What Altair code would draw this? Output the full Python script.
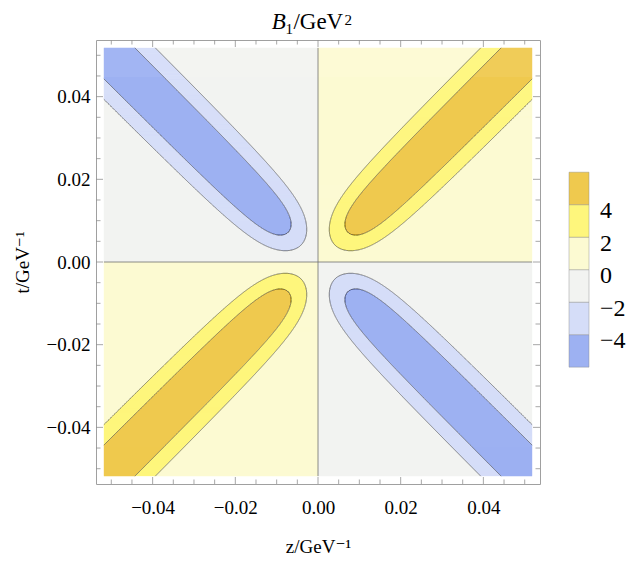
import numpy as np
import pandas as pd
import altair as alt

# ---------------- values ----------------
BAND_ORDER = ["lt-4", "-4..-2", "-2..0", "0..2", "2..4", "gt4"]
BAND_COLORS = ["#9db1f2", "#d5ddf8", "#f2f3f1", "#fcfad2", "#fef67c", "#efc94e"]
LEGEND_EDGES = [-6, -4, -2, 0, 2, 4, 6]
LEGEND_LABEL_VALUES = [4, 2, 0, -2, -4]
LEGEND_LABELS = ["4", "2", "0", "\u22122", "\u22124"]

# shape of the |B1| = 2 and |B1| = 4 contours (bands along the light cone z = +-t)
HALF_WIDTH_2 = 0.00892   # asymptotic half width across the diagonal
HALF_WIDTH_4 = 0.00538
TIP_2 = 0.0058           # distance of the rounded tip from the origin along the diagonal
TIP_4 = 0.0102

PLOT_RANGE = 0.0518
FRAME_RANGE = 0.0537
MAJOR_TICKS = [-0.04, -0.02, 0.0, 0.02, 0.04]
MINOR_TICKS = [-0.05, -0.045, -0.035, -0.03, -0.025, -0.015, -0.01, -0.005,
               0.005, 0.01, 0.015, 0.025, 0.03, 0.035, 0.045, 0.05]

FONT = "Liberation Serif, DejaVu Serif, serif"
S2 = np.sqrt(2.0)
R = PLOT_RANGE


def band_index(z, t):
    pos = z * t > 0
    d1 = (z + t) / S2
    d2 = (t - z) / S2
    u = np.where(pos, np.abs(d1), np.abs(d2))
    v = np.where(pos, d2, d1)

    def inside(w, u0):
        return (np.abs(v) < w) & (u ** 2 * (1 - (v / w) ** 2) >= v ** 2 + u0 ** 2)

    mag = np.where(inside(HALF_WIDTH_4, TIP_4), 2, np.where(inside(HALF_WIDTH_2, TIP_2), 1, 0))
    return np.where(pos, 3 + mag, 2 - mag)


# ---- filled contour regions as horizontal runs ----
NROW, NCOL = 428, 2400
tz = np.linspace(-R, R, NROW + 1)
zz = np.linspace(-R, R, NCOL + 1)
zc = (zz[:-1] + zz[1:]) / 2
step = tz[1] - tz[0]
rows = []
for i in range(NROW):
    tc = (tz[i] + tz[i + 1]) / 2
    idx = band_index(zc, np.full_like(zc, tc))
    change = np.flatnonzero(np.diff(idx)) + 1
    starts = np.concatenate([[0], change])
    ends = np.concatenate([change, [NCOL]])
    top = min(tz[i + 1] + 0.5 * step, R)
    for s, e in zip(starts, ends):
        rows.append((zz[s], zz[e], tz[i], top, BAND_ORDER[int(idx[s])]))
fill_df = pd.DataFrame(rows, columns=["z0", "z1", "t0", "t1", "band"])


# ---- contour lines ----
def contour_points(w, u0, quadrant, n=4000):
    th = np.linspace(-np.pi / 2, np.pi / 2, n + 2)[1:-1]
    v = w * np.sin(th)
    u = np.sqrt(v ** 2 + u0 ** 2) / np.cos(th)
    if quadrant == 1:
        z, t = (u - v) / S2, (u + v) / S2
    elif quadrant == 3:
        z, t = (-u - v) / S2, (v - u) / S2
    elif quadrant == 2:
        z, t = (v - u) / S2, (v + u) / S2
    else:
        z, t = (v + u) / S2, (v - u) / S2
    m = np.maximum(np.abs(z), np.abs(t))
    ids = np.flatnonzero(m <= R)
    a, b = ids[0], ids[-1]
    zs = list(z[a:b + 1])
    ts = list(t[a:b + 1])
    if a > 0:
        f = (R - m[a]) / (m[a - 1] - m[a])
        zs.insert(0, z[a] + f * (z[a - 1] - z[a]))
        ts.insert(0, t[a] + f * (t[a - 1] - t[a]))
    if b < len(z) - 1:
        f = (R - m[b]) / (m[b + 1] - m[b])
        zs.append(z[b] + f * (z[b + 1] - z[b]))
        ts.append(t[b] + f * (t[b + 1] - t[b]))
    return zs, ts


line_rows = []
cid = 0
for (w, u0) in [(HALF_WIDTH_2, TIP_2), (HALF_WIDTH_4, TIP_4)]:
    for q in [1, 2, 3, 4]:
        zs, ts = contour_points(w, u0, q)
        for k, (a, b) in enumerate(zip(zs, ts)):
            line_rows.append((a, b, cid, k))
        cid += 1
line_df = pd.DataFrame(line_rows, columns=["z", "t", "cid", "k"])

zero_df = pd.DataFrame({"z0": [0.0, -R], "z1": [0.0, R], "t0": [-R, 0.0], "t1": [R, 0.0]})

# ---------------- encodings ----------------
xs = alt.Scale(domain=[-FRAME_RANGE, FRAME_RANGE], nice=False, zero=False)
ys = alt.Scale(domain=[-FRAME_RANGE, FRAME_RANGE], nice=False, zero=False)
cscale = alt.Scale(domain=BAND_ORDER, range=BAND_COLORS)

xaxis = alt.Axis(values=MAJOR_TICKS, format=".2f", ticks=False, tickSize=0, domain=False,
                 grid=False, labelFont=FONT, labelFontSize=19, labelColor="black",
                 labelPadding=29, labelBaseline="alphabetic", labelFlush=False,
                 title="z/GeV\u207b\u00b9", titleFont=FONT, titleFontSize=19,
                 titleFontWeight="normal", titleColor="black", titleX=222, titleY=62,
                 titleBaseline="middle")
yaxis = alt.Axis(values=MAJOR_TICKS, format=".2f", ticks=False, tickSize=0, domain=False,
                 grid=False, labelFont=FONT, labelFontSize=19, labelColor="black",
                 labelPadding=6, labelFlush=False,
                 title="t/GeV\u207b\u00b9", titleFont=FONT, titleFontSize=19,
                 titleFontWeight="normal", titleColor="black", titleX=-74, titleY=222,
                 titleAngle=270, titleBaseline="middle")


def X(f):
    return alt.X(f, type="quantitative", scale=xs, axis=xaxis)


def Y(f):
    return alt.Y(f, type="quantitative", scale=ys, axis=yaxis)


fill = alt.Chart(fill_df).mark_rect(strokeWidth=0).encode(
    x=X("z0"), x2="z1", y=Y("t0"), y2="t1",
    color=alt.Color("band:N", scale=cscale, legend=None))

lines = alt.Chart(line_df).mark_line(color="#4a4a4a", strokeWidth=0.75, opacity=0.85).encode(
    x=X("z"), y=Y("t"), detail="cid:N", order="k:Q")

zero = alt.Chart(zero_df).mark_rule(color="#707070", strokeWidth=0.8).encode(
    x=X("z0"), x2="z1", y=Y("t0"), y2="t1")

W = 444
tick_layers = []
for vals, L in [(MAJOR_TICKS, 7), (MINOR_TICKS, 4.5)]:
    tdf = pd.DataFrame({"v": vals})
    base = alt.Chart(tdf).mark_rule(color="#909090", strokeWidth=0.8)
    tick_layers += [
        base.encode(x=X("v"), y=alt.value(W), y2=alt.value(W - L)),
        base.encode(x=X("v"), y=alt.value(0), y2=alt.value(L)),
        base.encode(y=Y("v"), x=alt.value(0), x2=alt.value(L)),
        base.encode(y=Y("v"), x=alt.value(W), x2=alt.value(W - L)),
    ]

one = pd.DataFrame({"a": [0]})


def txt(s, x, y, size, italic=False, align="left"):
    kw = dict(text=s, font=FONT, fontSize=size, align=align, baseline="alphabetic", color="black")
    if italic:
        kw["fontStyle"] = "italic"
    return alt.Chart(one).mark_text(**kw).encode(x=alt.value(x), y=alt.value(y))


title_layers = [
    txt("B", 175.7, -10.7, 23, italic=True),
    txt("1", 189.5, -6.5, 15),
    txt("/GeV", 222.3, -10.7, 23, align="center"),
    txt("2", 248.5, -15, 15),
]

main = alt.layer(fill, lines, zero, *tick_layers, *title_layers)

# ---------------- bar legend ----------------
leg_df = pd.DataFrame({"lo": LEGEND_EDGES[:-1], "hi": LEGEND_EDGES[1:], "band": BAND_ORDER})
lab_df = pd.DataFrame({"lv": LEGEND_LABEL_VALUES, "lab": LEGEND_LABELS})
ls = alt.Scale(domain=[-13.19, 14.135], nice=False, zero=False)

leg_rect = alt.Chart(leg_df).mark_rect(stroke="#8a8a8a", strokeWidth=0.6, strokeOpacity=0.7).encode(
    x=alt.value(473), x2=alt.value(493),
    y=alt.Y("lo:Q", scale=ls, axis=None), y2="hi:Q",
    color=alt.Color("band:N", scale=cscale, legend=None))
leg_text = alt.Chart(lab_df).mark_text(font=FONT, fontSize=24, align="left",
                                       baseline="alphabetic", dy=13.5, color="black").encode(
    x=alt.value(504), y=alt.Y("lv:Q", scale=ls, axis=None), text="lab:N")
legend = alt.layer(leg_rect, leg_text)

chart = alt.layer(main, legend).resolve_scale(y="independent").properties(
    width=W, height=W,
    autosize=alt.AutoSizeParams(type="none"),
    padding={"left": 96, "top": 40, "right": 102, "bottom": 77},
    background="white",
).configure_view(stroke="#a0a0a0", strokeWidth=1)

chart.save("out.html", embed_options={"renderer": "svg", "actions": False})
